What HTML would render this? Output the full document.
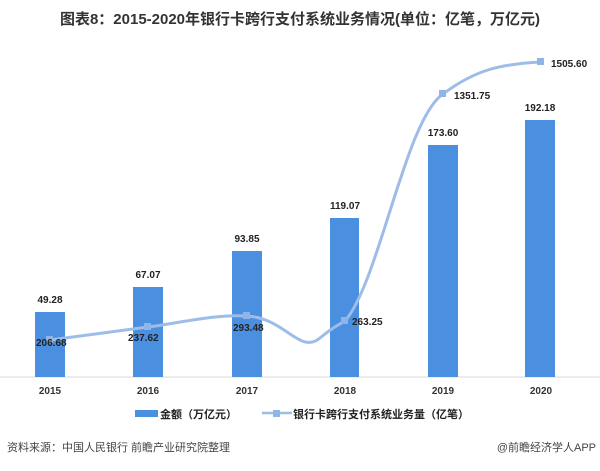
<!DOCTYPE html>
<html><head><meta charset="utf-8"><style>
body{margin:0;background:#fff;}
svg text{font-family:"Liberation Sans","Noto Sans CJK SC",sans-serif;}
</style></head><body>
<svg width="600" height="466" viewBox="0 0 600 466" xmlns="http://www.w3.org/2000/svg">
<rect width="600" height="466" fill="#fff"/>
<text x="300" y="24" text-anchor="middle" font-size="15" font-weight="bold" fill="#333">图表8：2015-2020年银行卡跨行支付系统业务情况(单位：亿笔，万亿元)</text>
<line x1="0" y1="377" x2="600" y2="377" stroke="#d9d9d9"/>
<g fill="#4a8fe0">
<rect x="35" y="312" width="30" height="65"/>
<rect x="133" y="287" width="30" height="90"/>
<rect x="232" y="251" width="30" height="126"/>
<rect x="330" y="218" width="29" height="159"/>
<rect x="428" y="145" width="30" height="232"/>
<rect x="525" y="120" width="30" height="257"/>
</g>
<g font-size="10" font-weight="bold" fill="#222" text-anchor="middle">
<text x="50" y="303">49.28</text>
<text x="148" y="278">67.07</text>
<text x="247" y="242">93.85</text>
<text x="345" y="209">119.07</text>
<text x="443" y="136">173.60</text>
<text x="540" y="111">192.18</text>
</g>
<path d="M50,340 C80,336 118,331 148,327 C180,323 215,314 247,316 C285,318 300,355 320,338 C332,328 338,325 345,321 C380,280 405,120 443,94 C475,70 500,64 541,62" fill="none" stroke="#9dbde8" stroke-width="3"/>
<g fill="#8fb4e6">
<rect x="46" y="336" width="7" height="7"/><rect x="144" y="323" width="7" height="7"/>
<rect x="243" y="312" width="7" height="7"/><rect x="341" y="317" width="7" height="7"/>
<rect x="439" y="90" width="7" height="7"/><rect x="537" y="58" width="7" height="7"/>
</g>
<g font-size="10" font-weight="bold" fill="#222">
<text x="36" y="346">206.68</text>
<text x="128" y="341">237.62</text>
<text x="233" y="331">293.48</text>
<text x="352" y="325">263.25</text>
<text x="454" y="99">1351.75</text>
<text x="551" y="67">1505.60</text>
</g>
<g font-size="10" font-weight="bold" fill="#333" text-anchor="middle">
<text x="50" y="394">2015</text><text x="148" y="394">2016</text><text x="247" y="394">2017</text>
<text x="345" y="394">2018</text><text x="443" y="394">2019</text><text x="541" y="394">2020</text>
</g>
<rect x="135" y="410" width="23" height="7" fill="#4a8fe0"/>
<text x="160" y="418" font-size="11" font-weight="bold" fill="#222">金额（万亿元）</text>
<line x1="262" y1="413" x2="292" y2="413" stroke="#9dbde8" stroke-width="2.5"/>
<rect x="273" y="410" width="7" height="7" fill="#8fb4e6"/>
<text x="293" y="418" font-size="11" font-weight="bold" fill="#222">银行卡跨行支付系统业务量（亿笔）</text>
<text x="7" y="451" font-size="11" fill="#444">资料来源：中国人民银行 前瞻产业研究院整理</text>
<text x="596" y="451" font-size="11" fill="#444" text-anchor="end">@前瞻经济学人APP</text>
</svg>
</body></html>
